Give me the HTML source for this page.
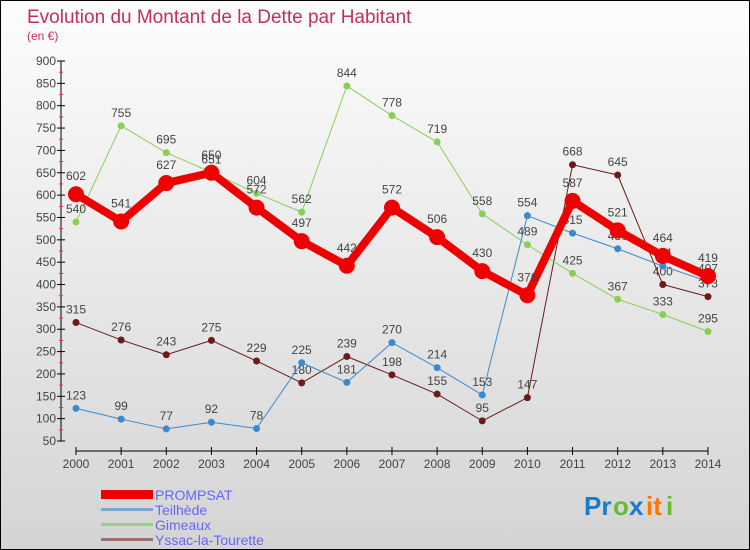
<!DOCTYPE html>
<html><head><meta charset="utf-8"><style>
body{margin:0}
#c{width:748px;height:548px;border:1px solid #000;background:linear-gradient(#fdfdfd,#d4d4d4);position:relative;overflow:hidden;font-family:"Liberation Sans",sans-serif}
</style></head><body>
<div id="c">
<svg id="s" width="748" height="548" xmlns="http://www.w3.org/2000/svg" font-family="Liberation Sans, sans-serif">
<text x="26" y="22" font-size="19" fill="#c0305e">Evolution du Montant de la Dette par Habitant</text>
<text x="26" y="39" font-size="12" fill="#c0305e">(en €)</text>
<g id="axes"></g><g id="series"></g>
<g>
<rect x="100" y="489" width="52" height="9" fill="#e00"/>
<text x="154" y="499" font-size="14" fill="#6666ff">PROMPSAT</text>
<rect x="100" y="507" width="52" height="3" fill="#7aa8cc"/>
<text x="154" y="514" font-size="14" fill="#6666ff">Teilhède</text>
<rect x="100" y="522" width="52" height="3" fill="#98d47c"/>
<text x="154" y="529" font-size="14" fill="#6666ff">Gimeaux</text>
<rect x="100" y="537" width="52" height="3" fill="#a07070"/>
<text x="154" y="544" font-size="14" fill="#6666ff">Yssac-la-Tourette</text>
</g>
<g font-size="26" font-weight="bold">
<text x="583" y="514" fill="#1a7acc">Pr</text><text x="612" y="514" fill="#66bb33">o</text><text x="628" y="514" fill="#1a7acc">x</text><text x="645" y="514" fill="#ff7700">it</text><text x="665" y="514" fill="#66bb33">i</text>
</g>
</svg></div>
<script>
const years=[2000,2001,2002,2003,2004,2005,2006,2007,2008,2009,2010,2011,2012,2013,2014];
const yTicks=[50,100,150,200,250,300,350,400,450,500,550,600,650,700,750,800,850,900];
const prompsat=[602,541,627,650,572,497,442,572,506,430,376,587,521,464,419];
const teilhede=[123,99,77,92,78,225,181,270,214,153,554,515,480,441,407];
const gimeaux=[540,755,695,651,604,562,844,778,719,558,489,425,367,333,295];
const yssac=[315,276,243,275,229,180,239,198,155,95,147,668,645,400,373];
const NS="http://www.w3.org/2000/svg";
function X(i){return 75+i*45.14;}
function Y(v){return 60+(900-v)*(380/850);}
function mk(t,a,p){const e=document.createElementNS(NS,t);for(const k in a)e.setAttribute(k,a[k]);p.appendChild(e);return e;}
const ax=document.getElementById('axes');
const yl=mk('line',{x1:60,y1:60,x2:60,y2:440,stroke:'#000'},ax);


yTicks.forEach(v=>{
 mk('line',{x1:56,x2:64,y1:Y(v),y2:Y(v),stroke:'#000'},ax);
 if(v<900)mk('line',{x1:58,x2:62,y1:Y(v+25),y2:Y(v+25),stroke:'#e33'},ax);
 const t=mk('text',{x:55,y:Y(v)+4,'font-size':12,fill:'#444','text-anchor':'end'},ax);t.textContent=v;
 
 
});
const xl=mk('line',{x1:X(0),y1:450,x2:X(14),y2:450,stroke:'#000'},ax);


years.forEach((y,i)=>{
 mk('line',{x1:X(i),x2:X(i),y1:446,y2:454,stroke:'#000'},ax);
 const t=mk('text',{x:X(i),y:467,'font-size':12,fill:'#444','text-anchor':'middle'},ax);t.textContent=y;
 
 
});
const sg=document.getElementById('series');
function draw(data,color,w,r,name,off){
 const g=mk('g',{},sg);
 
 
 mk('polyline',{points:data.map((v,i)=>X(i)+','+Y(v)).join(' '),fill:'none',stroke:color,'stroke-width':w,'stroke-linejoin':'round'},g);
 data.forEach((v,i)=>{
  const c=mk('circle',{cx:X(i),cy:Y(v),r:r,fill:color},g);
  
  
  const t=mk('text',{x:X(i),y:Y(v)-off,'font-size':12,fill:'#444','text-anchor':'middle'},g);t.textContent=v;
 });
}
draw(yssac,'#6b1a1a',1,3.5,'yssac',9);
draw(gimeaux,'#88d055',1,3.5,'gimeaux',9);
draw(teilhede,'#3a8acc',1,3.5,'teilhede',9);
draw(prompsat,'#ee0000',8,8,'prompsat',14);
</script>
</body></html>
